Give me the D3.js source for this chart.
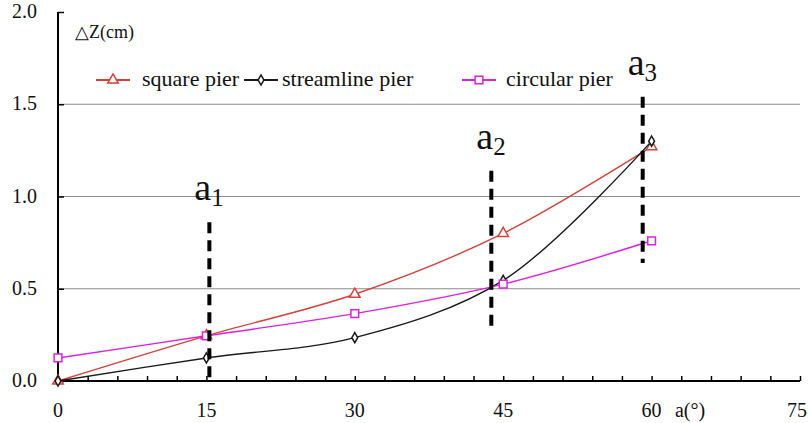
<!DOCTYPE html>
<html>
<head>
<meta charset="utf-8">
<script src="https://cdn.jsdelivr.net/npm/d3@7"></script>
<style>
  html, body { margin: 0; padding: 0; background: #fff; }
  svg { display: block; }
</style>
</head>
<body>
<svg id="chart" width="808" height="423" font-family="Liberation Serif"></svg>
<script>
// Angle of attack (degrees) at which each pier was measured
const angles = [0, 15, 30, 45, 60];
// Water-level rise ΔZ (cm) for each pier shape
const squarePier = [0, 0.245, 0.47, 0.80, 1.27];
const streamlinePier = [0, 0.125, 0.235, 0.545, 1.30];
const circularPier = [0.125, 0.245, 0.365, 0.525, 0.76];

const seriesNames = ["square pier", "streamline pier", "circular pier"];

// Axis ticks
const xMajorTicks = [0, 15, 30, 45, 60, 75];
const xMinorTicks = d3.range(0, 76, 3);
const yTicks = [0.0, 0.5, 1.0, 1.5, 2.0];
const yGridTicks = [0.5, 1.0, 1.5];

// Critical-angle markers: label, angle, lower and upper ΔZ extent
const markerNames = ["1", "2", "3"];
const markerAngles = [15.3, 43.8, 59.1];
const markerLow = [0, 0.28, 0.64];
const markerHigh = [0.86, 1.14, 1.54];

const svg = d3.select("#chart");
const x = d3.scaleLinear().domain([0, 75]).range([58, 800]);
const y = d3.scaleLinear().domain([0, 2]).range([381, 12]);

function label(sel, size) {
  return sel.attr("font-family", "Liberation Serif")
    .style("font-family", "Liberation Serif")
    .attr("font-size", size)
    .attr("fill", "#111");
}

// Horizontal grid lines
svg.append("g").selectAll("line").data(yGridTicks).join("line")
  .attr("x1", x(0)).attr("x2", x(75))
  .attr("y1", d => y(d)).attr("y2", d => y(d))
  .attr("stroke", "#8c8c8c").attr("stroke-width", 1.2);

// Y axis: line with short inward ticks, labels to the left
const yAxis = svg.append("g").attr("transform", `translate(${x(0)},0)`)
  .call(d3.axisRight(y).tickValues(yTicks).tickSize(6).tickFormat(""));
yAxis.select(".domain").attr("stroke", "#000").attr("stroke-width", 2)
  .attr("d", `M0,${y(2)}V${y(0)}`);
yAxis.selectAll(".tick line").attr("stroke", "#000").attr("stroke-width", 1.5);

label(svg.append("g").selectAll("text").data(yTicks).join("text")
  .attr("x", 37).attr("y", d => y(d) + 6)
  .attr("text-anchor", "end"), 20)
  .text(d => d.toFixed(1));

// X axis: line with minor ticks every 3 degrees pointing up
const xAxis = svg.append("g").attr("transform", `translate(0,${y(0)})`)
  .call(d3.axisTop(x).tickValues(xMinorTicks).tickSize(5).tickFormat(""));
xAxis.select(".domain").attr("stroke", "#000").attr("stroke-width", 2)
  .attr("d", `M${x(0)},0H${x(75)}`);
xAxis.selectAll(".tick line").attr("stroke", "#000").attr("stroke-width", 1.5);

label(svg.append("g").selectAll("text").data(xMajorTicks).join("text")
  .attr("x", d => x(d) + (d === 75 ? -3 : 0)).attr("y", 417)
  .attr("text-anchor", "middle"), 20)
  .text(d => d);

label(svg.append("text").attr("x", 690).attr("y", 417).attr("text-anchor", "middle"), 20)
  .text("a(°)");

label(svg.append("text").attr("x", 75).attr("y", 38), 18).text("△Z(cm)");

// Series
const series = [
  { name: seriesNames[0], values: squarePier, color: "#d9403a", shape: "triangle" },
  { name: seriesNames[1], values: streamlinePier, color: "#1a1a1a", shape: "diamond" },
  { name: seriesNames[2], values: circularPier, color: "#e020e0", shape: "square" }
];

const line = d3.line()
  .x(d => x(d[0])).y(d => y(d[1]))
  .curve(d3.curveCatmullRom.alpha(0.5));

function markerPath(shape) {
  if (shape === "triangle") return d3.symbol(d3.symbolTriangle, 48)();
  if (shape === "diamond") return d3.symbol(d3.symbolDiamond, 30)();
  return d3.symbol(d3.symbolSquare, 60)();
}

series.forEach(s => {
  const pts = angles.map((a, i) => [a, s.values[i]]);
  svg.append("path").datum(pts).attr("d", line)
    .attr("fill", "none").attr("stroke", s.color).attr("stroke-width", 1.4);
  svg.append("g").selectAll("path").data(pts).join("path")
    .attr("transform", d => `translate(${x(d[0])},${y(d[1])})`)
    .attr("d", markerPath(s.shape))
    .attr("fill", "#fff").attr("stroke", s.color).attr("stroke-width", 1.5);
});

// Legend: sample line with marker, then the series name
const legendLineX = [96, 244, 462];
const legendTextX = [142, 282, 506];
const legend = svg.append("g");
series.forEach((s, i) => {
  const g = legend.append("g").attr("transform", "translate(0,80)");
  g.append("line").attr("x1", legendLineX[i]).attr("x2", legendLineX[i] + 34)
    .attr("y1", 0).attr("y2", 0)
    .attr("stroke", s.color).attr("stroke-width", 1.8);
  g.append("path").attr("transform", `translate(${legendLineX[i] + 17},0)`)
    .attr("d", markerPath(s.shape))
    .attr("fill", "#fff").attr("stroke", s.color).attr("stroke-width", 1.5);
  label(g.append("text").attr("x", legendTextX[i]).attr("y", 6), 22).text(s.name);
});

// Critical-angle dashed markers with labels a1, a2, a3
markerAngles.forEach((a, i) => {
  svg.append("line")
    .attr("x1", x(a)).attr("x2", x(a))
    .attr("y1", y(markerHigh[i])).attr("y2", y(markerLow[i]))
    .attr("stroke", "#000").attr("stroke-width", 4)
    .attr("stroke-dasharray", "11,7");
  const t = label(svg.append("text")
    .attr("x", x(a) - 15).attr("y", y(markerHigh[i]) - 22), 38);
  t.append("tspan").text("a");
  t.append("tspan").attr("font-size", 25).attr("dy", 6).text(markerNames[i]);
});
</script>
</body>
</html>
